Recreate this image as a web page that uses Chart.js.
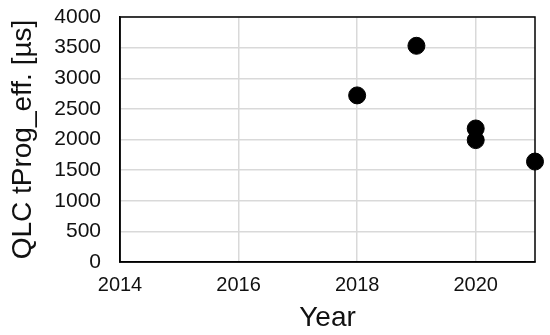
<!DOCTYPE html>
<html>
<head>
<meta charset="utf-8">
<script src="https://cdn.jsdelivr.net/npm/chart.js@4"></script>
<style>
  html, body { margin: 0; padding: 0; background: #fff; }
  #wrap { width: 550px; height: 335px; }
</style>
</head>
<body>
<div id="wrap"><canvas id="qlcChart"></canvas></div>
<script>
// Data
const years = [2018, 2019, 2020, 2020, 2021];
const tProgValues = [2720, 3530, 2180, 1990, 1640];
const xTicks = [2014, 2016, 2018, 2020];

// Box round the whole plot area (Chart.js only draws the axis sides)
const frameBox = {
    id: 'frameBox',
    beforeDatasetsDraw(chart) {
        const a = chart.chartArea;
        const ctx = chart.ctx;
        ctx.save();
        ctx.strokeStyle = '#000';
        ctx.lineWidth = 1.5;
        ctx.strokeRect(a.left, a.top, a.right - a.left, a.bottom - a.top);
        ctx.restore();
    }
};

function initQlcChart() {
    const ctx = document.getElementById('qlcChart').getContext('2d');
    const points = years.map(function(y, i) { return { x: y, y: tProgValues[i] }; });

    return new Chart(ctx, {
        type: 'scatter',
        data: {
            datasets: [{
                data: points,
                backgroundColor: '#000',
                borderColor: '#000',
                pointRadius: 8.5,
                pointHoverRadius: 8.5,
                clip: false
            }]
        },
        options: {
            responsive: true,
            maintainAspectRatio: false,
            animation: false,
            plugins: {
                legend: { display: false },
                tooltip: { enabled: false }
            },
            layout: {
                padding: { top: 17, right: 15, bottom: 0, left: 0 }
            },
            scales: {
                x: {
                    type: 'linear',
                    min: 2014,
                    max: 2021,
                    afterBuildTicks: function(scale) {
                        scale.ticks = xTicks.map(function(v) { return { value: v }; });
                    },
                    afterFit: function(scale) { scale.height = 73; },
                    ticks: {
                        padding: 11,
                        color: '#111',
                        font: { family: 'Liberation Sans', size: 20 },
                        maxRotation: 0,
                        callback: function(value) { return String(value); }
                    },
                    grid: { color: '#d9d9d9', lineWidth: 1.5, drawTicks: false },
                    border: { color: '#000', width: 1.5 },
                    title: {
                        display: true,
                        text: 'Year',
                        color: '#111',
                        font: { family: 'Liberation Sans', size: 28 },
                        padding: { top: 0, bottom: 0 }
                    }
                },
                y: {
                    min: 0,
                    max: 4000,
                    afterFit: function(scale) {
                        scale.width = 120;
                        scale.paddingTop = 0;
                        scale.paddingBottom = 0;
                    },
                    ticks: {
                        stepSize: 500,
                        padding: 19,
                        color: '#111',
                        font: { family: 'Liberation Sans', size: 21 },
                        callback: function(value) { return String(value); }
                    },
                    grid: { color: '#d9d9d9', lineWidth: 1.5, drawTicks: false },
                    border: { color: '#000', width: 1.5 },
                    title: {
                        display: true,
                        text: 'QLC tProg_eff. [µs]',
                        color: '#111',
                        font: { family: 'Liberation Sans', size: 28 },
                        padding: { top: 6, bottom: 0 }
                    }
                }
            }
        },
        plugins: [frameBox]
    });
}

initQlcChart();
</script>
</body>
</html>
